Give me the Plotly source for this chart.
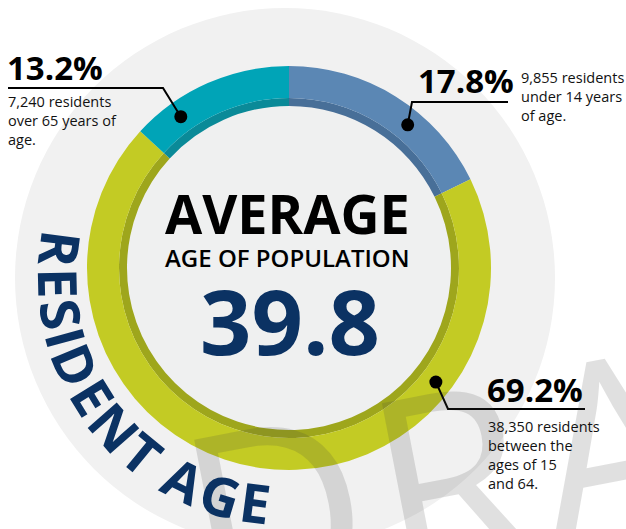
import math
import plotly.graph_objects as go

# Canvas size in pixels
W, H = 626, 529

# ---- Data -------------------------------------------------------------
groups = ["Under 14", "15 to 64", "Over 65"]
shares = [17.8, 69.2, 13.2]            # percent of residents
residents = [9855, 38350, 7240]
descriptions = [
    "under 14 years<br>of age.",
    "between the<br>ages of 15<br>and 64.",
    "over 65 years of<br>age.",
]
average_age = 39.8
title_top = "AVERAGE"
title_sub = "AGE OF POPULATION"
arc_title = "RESIDENT AGE"
watermark = "DRAFT"

# ---- Style ------------------------------------------------------------
ring_colors = ["#5B87B4", "#C3CB24", "#00A4B7"]
ring_shadow = ["#486F98", "#9EA61C", "#0A8A98"]
navy = "#0B3263"
font_family = "Open Sans"

ring_cx, ring_cy = 289, 268      # donut centre (px)
r_outer, r_band, r_inner = 202, 170, 162
disc_cx, disc_cy, disc_r = 285, 278, 270   # large pale disc behind the ring

# where each callout dot sits inside its slice (0 = slice start, 1 = end)
dot_frac = [0.62, 0.257, 0.25]
dot_r = 6.5
# elbow / end points of the leader lines and label anchors
callouts = [
    dict(elbow=(412, 102), end=(508, 102), pct=(416, 80), pct_anchor="left",
         txt=(519, 96), txt_anchor="left"),
    dict(elbow=(448, 409), end=(585, 409), pct=(485, 389), pct_anchor="left",
         txt=(486, 455), txt_anchor="left"),
    dict(elbow=(163, 88), end=(8, 88), pct=(5, 67), pct_anchor="left",
         txt=(6, 120), txt_anchor="left"),
]


def pie_domain(cx, cy, r):
    return dict(x=[(cx - r) / W, (cx + r) / W],
                y=[(H - cy - r) / H, (H - cy + r) / H])


fig = go.Figure()

# invisible trace so the pixel-space x/y axes exist for shapes and labels
fig.add_trace(go.Scatter(x=[0, W], y=[0, H], mode="markers",
                         marker=dict(opacity=0), hoverinfo="skip",
                         showlegend=False))

# thin darker inner band of the ring
fig.add_trace(go.Pie(
    labels=groups, values=shares, sort=False, direction="clockwise",
    rotation=0, hole=r_inner / r_band, textinfo="none", hoverinfo="skip",
    marker=dict(colors=ring_shadow, line=dict(width=0)),
    domain=pie_domain(ring_cx, ring_cy, r_band), showlegend=False))

# main ring
fig.add_trace(go.Pie(
    labels=groups, values=shares, sort=False, direction="clockwise",
    rotation=0, hole=r_band / r_outer, textinfo="none",
    hovertemplate="%{label}: %{value}%<extra></extra>",
    marker=dict(colors=ring_colors, line=dict(width=0)),
    domain=pie_domain(ring_cx, ring_cy, r_outer), showlegend=False))

shapes = [
    dict(type="circle", xref="x", yref="y", layer="below",
         x0=disc_cx - disc_r, x1=disc_cx + disc_r,
         y0=disc_cy - disc_r, y1=disc_cy + disc_r,
         fillcolor="#F1F1F1", line=dict(width=0)),
    dict(type="circle", xref="x", yref="y", layer="below",
         x0=ring_cx - r_inner, x1=ring_cx + r_inner,
         y0=ring_cy - r_inner, y1=ring_cy + r_inner,
         fillcolor="#EFF0F0", line=dict(width=0)),
]

annotations = []

# faint watermark across the lower right
wm_font = 250
wm_angle = -11
wm_adv = {"D": 0.77, "R": 0.66, "A": 0.66, "F": 0.58, "T": 0.6}
ux, uy = math.cos(math.radians(wm_angle)), math.sin(math.radians(wm_angle))
wx, wy = 274, 507
for i, ch in enumerate(watermark):
    annotations.append(dict(
        x=wx, y=wy, xref="x", yref="y", text=ch, showarrow=False,
        textangle=wm_angle, xanchor="center", yanchor="middle",
        font=dict(family=font_family, size=wm_font, color="rgba(60,60,60,0.16)")))
    if i + 1 < len(watermark):
        step = wm_font * (wm_adv[ch] + wm_adv[watermark[i + 1]]) / 2
        wx += ux * step
        wy += uy * step

# callouts: leader line, dot, percentage and description
total = sum(shares)
start = 0.0
for i, share in enumerate(shares):
    span = 360.0 * share / total
    ang = math.radians(start + dot_frac[i] * span)
    r_mid = (r_outer + r_band) / 2
    dx = ring_cx + r_mid * math.sin(ang)
    dy = ring_cy - r_mid * math.cos(ang)
    start += span
    c = callouts[i]
    ex, ey = c["elbow"]
    fx, fy = c["end"]
    shapes.append(dict(type="path", xref="x", yref="y", layer="above",
                       path=f"M {dx:.1f} {dy:.1f} L {ex} {ey} L {fx} {fy}",
                       line=dict(color="black", width=2)))
    shapes.append(dict(type="circle", xref="x", yref="y", layer="above",
                       x0=dx - dot_r, x1=dx + dot_r, y0=dy - dot_r, y1=dy + dot_r,
                       fillcolor="black", line=dict(width=0)))
    annotations.append(dict(
        x=c["pct"][0], y=c["pct"][1], xref="x", yref="y",
        text=f"{share:.1f}%", showarrow=False,
        xanchor=c["pct_anchor"], yanchor="middle",
        font=dict(family=font_family, size=33, color="black", weight=700)))
    annotations.append(dict(
        x=c["txt"][0], y=c["txt"][1], xref="x", yref="y",
        text=f"{residents[i]:,} residents<br>{descriptions[i]}",
        showarrow=False, align="left",
        xanchor=c["txt_anchor"], yanchor="middle",
        font=dict(family=font_family, size=14.5, color="#111111")))

# centre headline
annotations += [
    dict(x=287, y=213, xref="x", yref="y", text=title_top, showarrow=False,
         xanchor="center", yanchor="middle",
         font=dict(family=font_family, size=54, color="black", weight=700)),
    dict(x=287, y=257, xref="x", yref="y", text=title_sub, showarrow=False,
         xanchor="center", yanchor="middle",
         font=dict(family=font_family, size=24, color="black", weight=600)),
    dict(x=290, y=320, xref="x", yref="y", text=f"{average_age}",
         showarrow=False, xanchor="center", yanchor="middle",
         font=dict(family=font_family, size=90, color=navy, weight=700)),
]

# title set along the pale disc, letters facing the centre
arc_font = 54
arc_r = 226
arc_start = 187.4
arc_track = 1.04
adv = {"R": 0.66, "E": 0.56, "S": 0.55, "I": 0.31, "D": 0.71, "N": 0.78,
       "T": 0.57, " ": 0.26, "A": 0.70, "G": 0.70}
dist = 0.0
for i, ch in enumerate(arc_title):
    if i > 0:
        dist += arc_track * arc_font * (adv[arc_title[i - 1]] + adv[ch]) / 2
    phi = arc_start - math.degrees(dist / arc_r)
    if ch == " ":
        continue
    px = disc_cx + arc_r * math.cos(math.radians(phi))
    py = disc_cy + arc_r * math.sin(math.radians(phi))
    annotations.append(dict(
        x=px, y=py, xref="x", yref="y", text=ch, showarrow=False,
        textangle=phi - 90, xanchor="center", yanchor="middle",
        font=dict(family=font_family, size=arc_font, color=navy, weight=700)))

fig.update_layout(
    width=W, height=H, autosize=False,
    margin=dict(l=0, r=0, t=0, b=0),
    paper_bgcolor="white", plot_bgcolor="rgba(0,0,0,0)",
    xaxis=dict(range=[0, W], visible=False, fixedrange=True, domain=[0, 1]),
    yaxis=dict(range=[H, 0], visible=False, fixedrange=True, domain=[0, 1]),
    shapes=shapes, annotations=annotations, showlegend=False,
)

fig.write_html("out.html")
